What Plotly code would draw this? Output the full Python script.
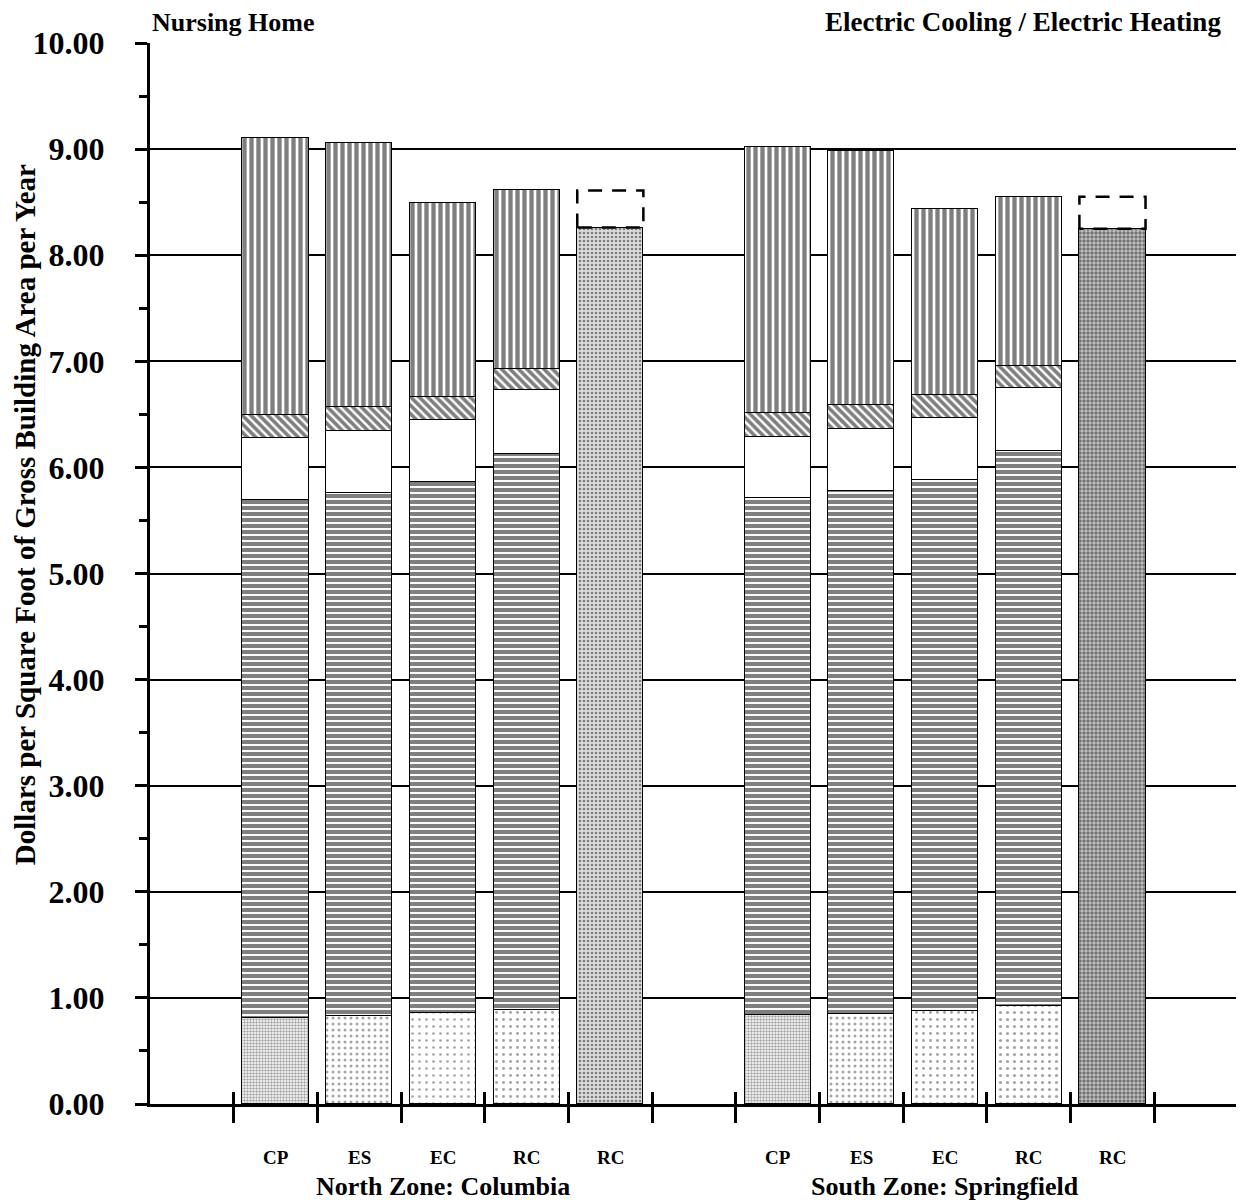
import plotly.graph_objects as go

# ---------------- data ----------------
zones = ["North Zone: Columbia", "South Zone: Springfield"]
categories = ["CP", "ES", "EC", "RC"]
alt_label = "RC"

# stacked components (order: N-CP, N-ES, N-EC, N-RC, S-CP, S-ES, S-EC, S-RC)
comp_stipple = [0.81, 0.83, 0.86, 0.89, 0.84, 0.85, 0.88, 0.92]
comp_horiz = [4.88, 4.93, 5.00, 5.24, 4.87, 4.93, 5.00, 5.23]
comp_blank = [0.59, 0.58, 0.59, 0.60, 0.58, 0.58, 0.59, 0.60]
comp_diag = [0.21, 0.23, 0.21, 0.20, 0.22, 0.23, 0.21, 0.21]
comp_vert = [2.61, 2.49, 1.83, 1.68, 2.51, 2.39, 1.76, 1.59]

# fifth bar (RC alternative) per zone
alt_values = [8.26, 8.25]

y_ticks = [0, 1, 2, 3, 4, 5, 6, 7, 8, 9, 10]
y_ticklabels = ["%.2f" % v for v in y_ticks]

title_left = "Nursing Home"
title_right = "Electric Cooling / Electric Heating"
y_title = "Dollars per Square Foot of Gross Building Area per Year"

# ---------------- layout helpers ----------------
slots_per_zone = len(categories) + 2  # 4 bars + alt bar + gap
bar_x = []
for zi in range(len(zones)):
    for ci in range(len(categories)):
        bar_x.append(1 + zi * slots_per_zone + ci)
alt_x = [1 + zi * slots_per_zone + len(categories) for zi in range(len(zones))]
n_slots = slots_per_zone * len(zones) + 1
xrange_ = [-0.5, n_slots - 0.5]
boundaries = [i + 0.5 for i in range(n_slots)]
BW = 0.79
FONT = "Liberation Serif, Times New Roman, serif"

fig = go.Figure()

line = dict(color="black", width=1.5)

segments = [
    (comp_stipple, dict(shape=".", fgcolor="#4a4a4a", bgcolor="white",
                        size=[3, 6, 7, 7, 3, 6, 7, 7],
                        solidity=[0.5, 0.2, 0.12, 0.14, 0.5, 0.2, 0.14, 0.16])),
    (comp_horiz, dict(shape="-", fgcolor="black", bgcolor="white", size=6, solidity=0.68)),
    (comp_blank, dict(shape="", fgcolor="black", bgcolor="white")),
    (comp_diag, dict(shape="\\", fgcolor="black", bgcolor="white", size=6, solidity=0.6)),
    (comp_vert, dict(shape="|", fgcolor="black", bgcolor="white", size=7, solidity=0.62)),
]
for vals, pat in segments:
    fig.add_trace(go.Bar(
        x=bar_x, y=vals, width=BW,
        marker=dict(color="white", line=line, pattern=pat),
        showlegend=False, hoverinfo="y",
    ))

# alternative RC bar
fig.add_trace(go.Bar(
    x=alt_x, y=alt_values, width=BW,
    marker=dict(color="#bdbdbd", line=dict(color="black", width=1),
                pattern=dict(shape=".", fgcolor="#202020", bgcolor=["#dcdcdc", "#c4c4c4"],
                             size=[4, 4], solidity=[0.35, 0.55])),
    showlegend=False, hoverinfo="y",
))

# dashed boxes: from alt bar top up to the RC total of the zone
rc_totals = []
for zi in range(len(zones)):
    idx = zi * len(categories) + len(categories) - 1
    rc_totals.append(comp_stipple[idx] + comp_horiz[idx] + comp_blank[idx]
                     + comp_diag[idx] + comp_vert[idx])
for zi in range(len(zones)):
    x0 = alt_x[zi] - BW / 2
    x1 = alt_x[zi] + BW / 2
    lo, hi = alt_values[zi], rc_totals[zi]
    fig.add_trace(go.Scatter(
        x=[x0, x0, x1, x1, x0], y=[lo, hi, hi, lo, lo], mode="lines",
        line=dict(color="black", width=2.5, dash="14px,10px"),
        showlegend=False, hoverinfo="skip",
    ))

# category labels & zone labels
for zi, zone in enumerate(zones):
    labels = categories + [alt_label]
    xs = [1 + zi * slots_per_zone + k for k in range(len(labels))]
    for xv, lab in zip(xs, labels):
        fig.add_annotation(x=xv, y=0, xref="x", yref="paper", text="<b>%s</b>" % lab,
                           showarrow=False, yanchor="middle", yshift=-53,
                           font=dict(family=FONT, size=19, color="black"))
    fig.add_annotation(x=(xs[0] + xs[-1]) / 2, y=0, xref="x", yref="paper",
                       text="<b>%s</b>" % zone, showarrow=False, yanchor="middle",
                       yshift=-82, font=dict(family=FONT, size=26, color="black"))

fig.add_annotation(x=0, y=1, xref="paper", yref="paper", text="<b>%s</b>" % title_left,
                   showarrow=False, xanchor="left", yanchor="middle", yshift=21,
                   font=dict(family=FONT, size=26, color="black"))
fig.add_annotation(x=0.985, y=1, xref="paper", yref="paper", text="<b>%s</b>" % title_right,
                   showarrow=False, xanchor="right", yanchor="middle", yshift=21,
                   borderpad=0, font=dict(family=FONT, size=27, color="black"))
fig.add_annotation(x=0, y=0.555, xref="paper", yref="paper", text="<b>%s</b>" % y_title,
                   showarrow=False, textangle=-90, xanchor="center", yanchor="middle",
                   xshift=-125, font=dict(family=FONT, size=29, color="black"))

fig.update_layout(
    width=1236, height=1194,
    margin=dict(l=142, r=6, t=35, b=98, autoexpand=False),
    paper_bgcolor="white", plot_bgcolor="white",
    barmode="stack", bargap=0,
    font=dict(family=FONT, color="black", size=18),
    xaxis=dict(range=xrange_, tickmode="array", tickvals=boundaries,
               ticktext=[""] * len(boundaries), ticks="outside", ticklen=16,
               tickwidth=3, tickcolor="black", showgrid=False, zeroline=False,
               showline=True, linecolor="black", linewidth=3, automargin=False),
    xaxis2=dict(range=xrange_, overlaying="x", anchor="y", side="bottom",
                tickmode="array", tickvals=boundaries,
                ticktext=[""] * len(boundaries), ticks="inside", ticklen=12,
                tickwidth=3, tickcolor="black", showgrid=False, zeroline=False,
                showline=False, automargin=False),
    yaxis=dict(range=[0, 10], tickmode="array", tickvals=y_ticks,
               ticktext=["<b>%s</b>" % t for t in y_ticklabels],
               ticks="outside", ticklen=12, tickwidth=3, tickcolor="black",
               ticklabelstandoff=24, automargin=False,
               minor=dict(tickmode="array", tickvals=[v + 0.5 for v in y_ticks[:-1]],
                          ticks="outside", ticklen=8, tickwidth=3, tickcolor="black",
                          showgrid=False),
               showgrid=True, gridcolor="black", gridwidth=2, zeroline=False,
               showline=True, linecolor="black", linewidth=3,
               tickfont=dict(family=FONT, size=32, color="black")),
)
# dummy invisible trace to activate xaxis2 ticks
fig.add_trace(go.Scatter(x=[xrange_[0]], y=[0], xaxis="x2", mode="markers",
                         marker=dict(opacity=0), showlegend=False, hoverinfo="skip"))

fig.write_html("out.html")
